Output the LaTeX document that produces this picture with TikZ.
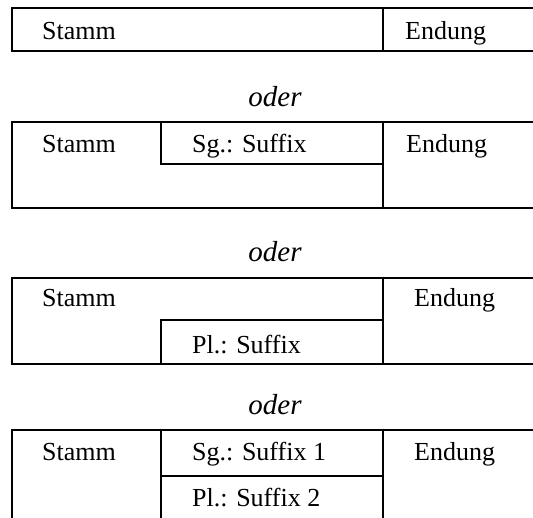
\documentclass[tikz,border=0pt]{standalone}
\usepackage{fontspec}
\setmainfont{Liberation Serif}
\tikzset{
  cell/.style={anchor=base west, inner sep=0pt, font=\fontsize{26}{30}\selectfont},
  oderlabel/.style={anchor=base, inner sep=0pt, font=\fontsize{29}{34}\selectfont\itshape},
  rule/.style={line width=1.3pt}
}
\begin{document}
\begin{tikzpicture}[x=1pt,y=-1pt]
\useasboundingbox (0,0) rectangle (533,517);
% Table 1
\draw[rule] (12,8) rectangle (545,51);
\draw[rule] (383,8) -- (383,51);
\node[cell] (s1) at (42,39) {Stamm};
\node[cell] (e1) at (405,39) {Endung};
\node[oderlabel] (o1) at (275,106) {oder};
% Table 2
\draw[rule] (12,122) rectangle (545,208);
\draw[rule] (383,122) -- (383,208);
\draw[rule] (161,122) -- (161,164) -- (383,164);
\node[cell] (s2) at (42,152) {Stamm};
\node[cell] (sg2) at (192,152) {Sg.: Suffix};
\node[cell] (e2) at (406,152) {Endung};
\node[oderlabel] (o2) at (275,261) {oder};
% Table 3
\draw[rule] (12,278) rectangle (545,364);
\draw[rule] (383,278) -- (383,364);
\draw[rule] (161,364) -- (161,320) -- (383,320);
\node[cell] (s3) at (42,306) {Stamm};
\node[cell] (e3) at (414,306) {Endung};
\node[cell] (pl3) at (192,353) {Pl.: Suffix};
\node[oderlabel] (o3) at (275,414) {oder};
% Table 4
\draw[rule] (545,430) -- (12,430) -- (12,545);
\draw[rule] (161,430) -- (161,545);
\draw[rule] (383,430) -- (383,545);
\draw[rule] (161,476) -- (383,476);
\node[cell] (s4) at (42,460) {Stamm};
\node[cell] (sg4) at (192,460) {Sg.: Suffix 1};
\node[cell] (e4) at (414,460) {Endung};
\node[cell] (pl4) at (192,506) {Pl.: Suffix 2};
\end{tikzpicture}
\end{document}
